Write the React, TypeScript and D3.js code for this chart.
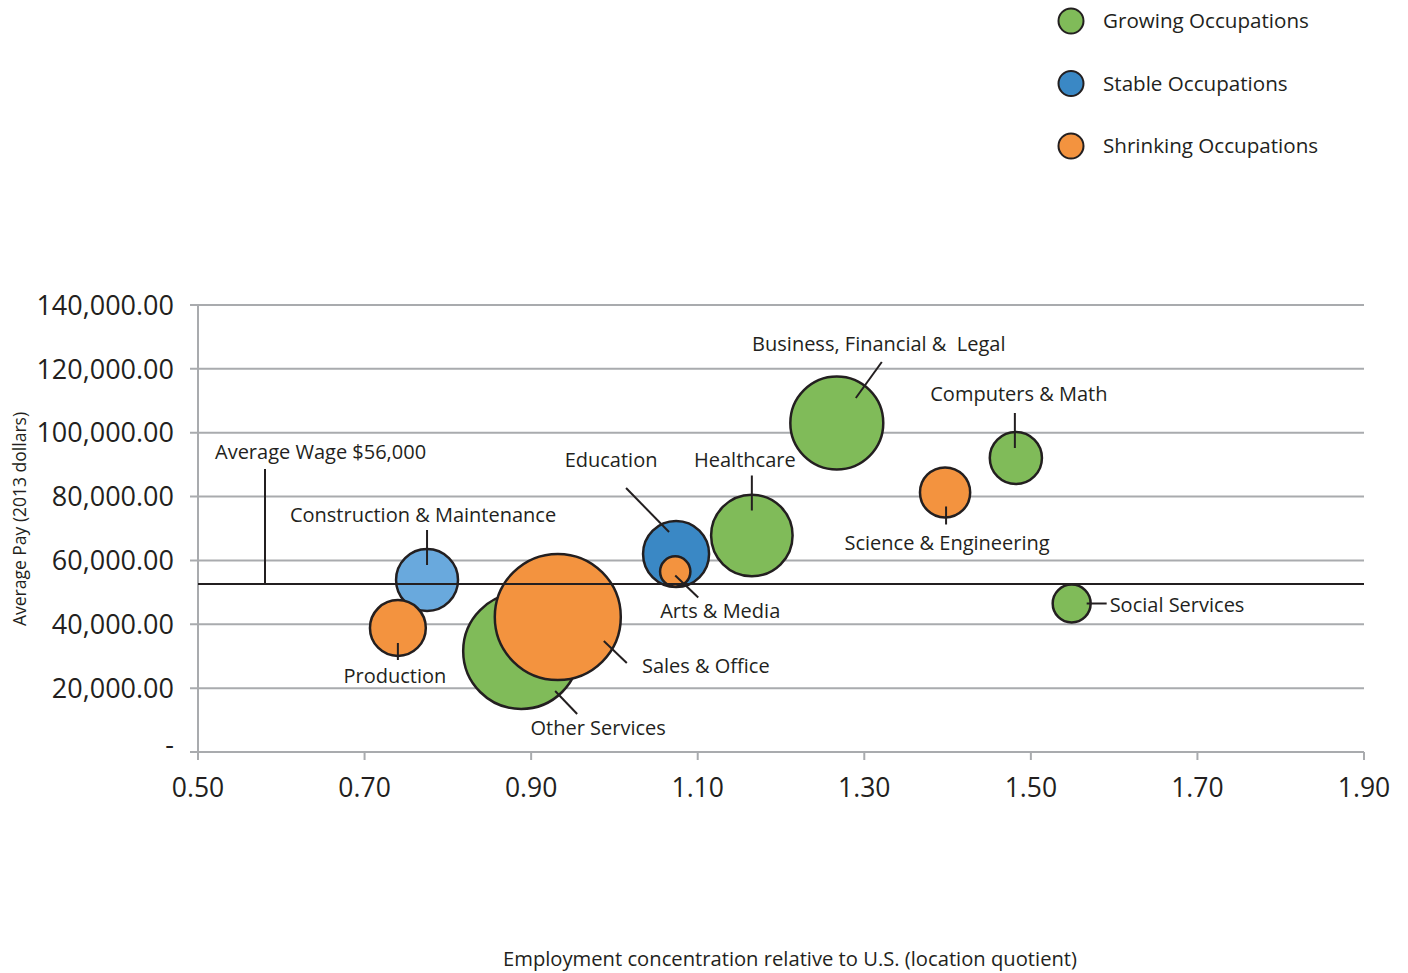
import React from 'react';
import * as d3 from 'd3';

// Occupation groups: location quotient, average pay (2013 $), employment (thousands)
const occupations = [
  'Construction & Maintenance',
  'Production',
  'Other Services',
  'Sales & Office',
  'Education',
  'Arts & Media',
  'Healthcare',
  'Business, Financial &  Legal',
  'Science & Engineering',
  'Computers & Math',
  'Social Services',
];
const locationQuotient = [0.775, 0.74, 0.888, 0.932, 1.074, 1.073, 1.165, 1.267, 1.397, 1.482, 1.549];
const averagePay = [53870, 38840, 31630, 42280, 62010, 56530, 67810, 103040, 81280, 92080, 46510];
const employment = [96, 78, 336, 397, 109, 23, 166, 216, 63, 68, 36];
const status = ['stable', 'shrinking', 'growing', 'shrinking', 'stable', 'shrinking', 'growing', 'growing', 'shrinking', 'growing', 'growing'];

const legendLabels = ['Growing Occupations', 'Stable Occupations', 'Shrinking Occupations'];
const legendStatus = ['growing', 'stable', 'shrinking'];

const xTicks = [0.5, 0.7, 0.9, 1.1, 1.3, 1.5, 1.7, 1.9];
const yTicks = [0, 20000, 40000, 60000, 80000, 100000, 120000, 140000];
const averageWage = 52600;

// label placement relative to each bubble centre (px): label dx/dy, anchor, leader line
const annotations: { dx: number; dy: number; anchor: string; line: [number, number, number, number] }[] = [
  { dx: -4, dy: -58, anchor: 'middle', line: [0, -50, 0, -15] },
  { dx: -3, dy: 55, anchor: 'middle', line: [0, 15, 0, 32] },
  { dx: 77, dy: 84, anchor: 'middle', line: [34, 40, 56, 63] },
  { dx: 148, dy: 56, anchor: 'middle', line: [46, 24, 69, 46] },
  { dx: -65, dy: -87, anchor: 'middle', line: [-50, -66, -7, -22] },
  { dx: 45, dy: 46, anchor: 'middle', line: [0, 4, 23, 26] },
  { dx: -7, dy: -68, anchor: 'middle', line: [0, -60, 0, -25] },
  { dx: 42, dy: -72, anchor: 'middle', line: [45, -61, 19, -25] },
  { dx: 2, dy: 58, anchor: 'middle', line: [1, 14, 1, 32] },
  { dx: 3, dy: -57, anchor: 'middle', line: [-1, -45, -1, -10] },
  { dx: 38, dy: 8, anchor: 'start', line: [15, 0, 35, 0] },
];

const statusColor: Record<string, string> = {
  growing: '#80bb59',
  stable: '#3a88c5',
  shrinking: '#f3933f',
};
const fillOverride: Record<string, string> = {
  'Construction & Maintenance': '#69a9dd',
};

const W = 1408;
const H = 973;
const FONT = '"Open Sans", "Noto Sans", sans-serif';
const INK = '#231f20';
const GRID = '#a9abae';

export default function App() {
  const x = d3.scaleLinear().domain([0.5, 1.9]).range([198, 1364]);
  const y = d3.scaleLinear().domain([0, 140000]).range([752, 305]);
  const r = d3.scaleSqrt().domain([0, d3.max(employment) || 1]).range([0, 63]);

  const yFormat = (v: number) => (v === 0 ? '-' : d3.format(',.2f')(v));
  const xFormat = d3.format('.2f');

  const points = occupations.map((name, i) => ({
    name,
    cx: x(locationQuotient[i]),
    cy: y(averagePay[i]),
    r: r(employment[i]),
    fill: fillOverride[name] || statusColor[status[i]],
    note: annotations[i],
  }));

  const [x0, x1] = x.range();

  return (
    <svg
      width={W}
      height={H}
      style={{ position: 'absolute', left: 0, top: 0, background: '#fff' }}
      fontFamily={FONT}
    >
      {/* grid and axes */}
      {yTicks.map(t => (
        <g key={t}>
          <line x1={x0 - 8} x2={x1} y1={y(t)} y2={y(t)} stroke={GRID} strokeWidth={2} />
          <text
            x={174}
            y={y(t)}
            dy={t === 0 ? '0.08em' : '0.36em'}
            textAnchor="end"
            fontSize={27}
            fill={INK}
          >
            {yFormat(t)}
          </text>
        </g>
      ))}
      <line x1={x0} x2={x0} y1={y(140000)} y2={y(0) + 8} stroke={GRID} strokeWidth={2} />
      {xTicks.map(t => (
        <g key={t}>
          <line x1={x(t)} x2={x(t)} y1={y(0)} y2={y(0) + 8} stroke={GRID} strokeWidth={2} />
          <text x={x(t)} y={797} textAnchor="middle" fontSize={26.5} fill={INK}>
            {xFormat(t)}
          </text>
        </g>
      ))}

      {/* bubbles */}
      {points.map(p => (
        <circle key={p.name} cx={p.cx} cy={p.cy} r={p.r} fill={p.fill} stroke={INK} strokeWidth={2.5} />
      ))}

      {/* average wage line */}
      <line x1={x0} x2={x1} y1={y(averageWage)} y2={y(averageWage)} stroke={INK} strokeWidth={2} />
      <line x1={265} x2={265} y1={y(averageWage)} y2={y(averageWage) - 115} stroke={INK} strokeWidth={2} />
      <text x={215} y={459} fontSize={20} fill={INK}>
        Average Wage $56,000
      </text>

      {/* labels with leaders */}
      {points.map(p => (
        <g key={p.name + '-label'}>
          <line
            x1={p.cx + p.note.line[0]}
            y1={p.cy + p.note.line[1]}
            x2={p.cx + p.note.line[2]}
            y2={p.cy + p.note.line[3]}
            stroke={INK}
            strokeWidth={2}
          />
          <text
            x={p.cx + p.note.dx}
            y={p.cy + p.note.dy}
            textAnchor={p.note.anchor}
            fontSize={20}
            fill={INK}
            style={{ whiteSpace: 'pre' }}
          >
            {p.name}
          </text>
        </g>
      ))}

      {/* legend */}
      {legendLabels.map((label, i) => (
        <g key={label} transform={`translate(1071, ${21 + i * 62.5})`}>
          <circle r={12.5} fill={statusColor[legendStatus[i]]} stroke={INK} strokeWidth={2} />
          <text x={32} dy="0.35em" fontSize={20.6} fill={INK}>
            {label}
          </text>
        </g>
      ))}

      {/* axis titles */}
      <text
        transform={`translate(26, 519) rotate(-90)`}
        textAnchor="middle"
        fontSize={17.5}
        fill={INK}
      >
        Average Pay (2013 dollars)
      </text>
      <text x={790} y={966} textAnchor="middle" fontSize={20.2} fill={INK}>
        Employment concentration relative to U.S. (location quotient)
      </text>
    </svg>
  );
}
